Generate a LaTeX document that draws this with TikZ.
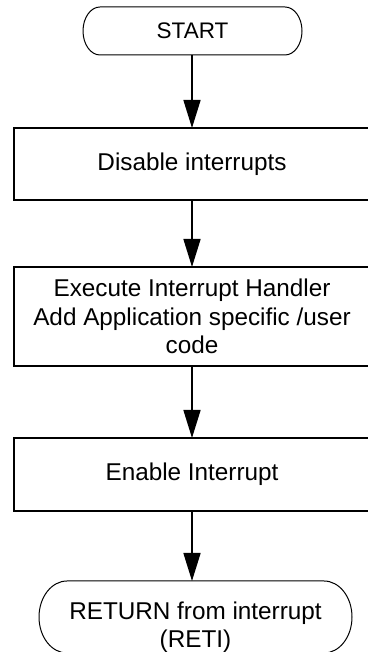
\documentclass[tikz,border=0pt]{standalone}
\usepackage{fontspec}
\setmainfont{Liberation Sans}
\usetikzlibrary{arrows.meta}
\begin{document}
\begin{tikzpicture}[x=1pt,y=1pt,
  txt/.style={font=\fontsize{24.3}{28.5}\selectfont, align=center},
  procbox/.style={draw, line width=2pt, minimum width=356pt, inner sep=0pt, outer sep=0pt, txt},
  termbox/.style={inner sep=0pt, outer sep=0pt, txt},
  termline/.style={line width=1pt},
  flow/.style={line width=1.6pt, -{Triangle[length=28pt,width=17pt]}},
]
\useasboundingbox (0,0) rectangle (367,652);

% terminals and process steps
\node[termbox, minimum width=219pt, minimum height=48pt, font=\fontsize{22.5}{27}\selectfont] (start) at (192.5,621) {START};
\node[procbox, minimum height=72pt] (disable) at (192,488) {Disable interrupts};
\node[procbox, minimum height=99pt] (exec) at (192,335.5)
  {Execute Interrupt Handler\\Add Application specific /user\\code};
\node[procbox, minimum height=73pt] (enable) at (192,177.5) {Enable Interrupt};
\node[termbox, minimum width=313pt, minimum height=72pt] (ret) at (195.5,35) {};
\node[txt] (rettxt) at (195.5,25) {RETURN from interrupt\\(RETI)};

% terminal outlines with elliptical ends
\draw[termline] ([xshift=17pt]start.north west) -- ([xshift=-17pt]start.north east)
  arc[start angle=90,end angle=-90,x radius=17pt,y radius=24pt]
  -- ([xshift=17pt]start.south west)
  arc[start angle=270,end angle=90,x radius=17pt,y radius=24pt] -- cycle;
\draw[termline] ([xshift=28pt]ret.north west) -- ([xshift=-28pt]ret.north east)
  arc[start angle=90,end angle=-90,x radius=28pt,y radius=36pt]
  -- ([xshift=28pt]ret.south west)
  arc[start angle=270,end angle=90,x radius=28pt,y radius=36pt] -- cycle;

% flow arrows
\draw[flow] (start.south -| disable.north) -- (disable.north);
\draw[flow] (disable.south) -- (exec.north);
\draw[flow] (exec.south) -- (enable.north);
\draw[flow] (enable.south) -- (enable.south |- ret.north);
\end{tikzpicture}
\end{document}
